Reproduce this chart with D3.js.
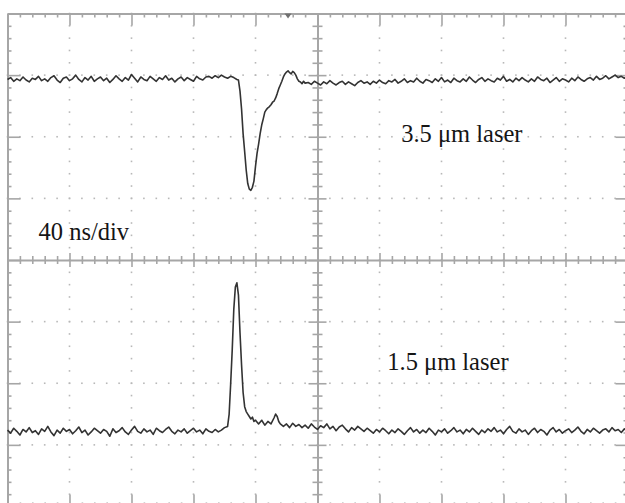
<!DOCTYPE html>
<html>
<head>
<meta charset="utf-8">
<script src="https://cdn.jsdelivr.net/npm/d3@7"></script>
<style>
  html, body { margin: 0; padding: 0; background: #ffffff; }
  svg { display: block; }
</style>
</head>
<body>
<div id="chart"></div>
<script>
// ---------------- DATA ----------------
// Time axis in ns (40 ns/div, 10 divisions), amplitude in 1/100 division (8 divisions).
const timeRange = [0, 400];
const ampRange = [-400, 400];
const sampleStep = 2; // ns between baseline samples

// 3.5 um laser trace (top)
const topBaseLeft = [
  293, 296, 290, 294, 291, 297, 292, 289, 295, 293,
  298, 291, 294, 290, 296, 299, 292, 288, 295, 297,
  291, 294, 300, 293, 289, 296, 292, 298, 290, 294,
  297, 291, 295, 288, 293, 299, 294, 290, 296, 292,
  301, 295, 289, 297, 293, 291, 298, 294, 290, 296,
  293, 299, 292, 295, 289, 294, 297, 291, 296, 293,
  290, 298, 294, 292, 297, 298, 295, 299, 296, 300,
  297, 295, 298, 296, 293
]; // t = 0 .. 148 ns
const topPulseT = [149, 150, 151, 152, 153, 154, 155, 156, 157, 158, 159, 160, 161, 162, 163, 164, 165, 166, 167, 168, 169, 170, 171, 172, 173, 174, 175, 176, 177, 178, 179, 180, 181, 182, 183, 184, 185, 186, 187, 188, 189, 190, 191, 192];
const topPulseV = [292, 274, 245, 205, 176, 146, 124, 115, 113, 118, 128, 152, 173, 188, 205, 219, 229, 240, 244, 247, 249, 252, 256, 258, 263, 270, 278, 284, 290, 297, 302, 305, 307, 304, 302, 306, 304, 300, 294, 290, 289, 286, 290, 287];
const topBaseRightStart = 194;
const topBaseRight = [
  288, 285, 290, 287, 284, 289, 286, 291, 287, 284,
  288, 290, 285, 289, 286, 283, 288, 291, 287, 289,
  285, 290, 287, 292, 288, 286, 291, 289, 293, 287,
  290, 294, 288, 291, 289, 295, 290, 287, 293, 291,
  288, 294, 290, 296, 289, 292, 288, 295, 291, 289,
  294, 290, 297, 292, 288, 293, 296, 290, 294, 291,
  289, 295, 292, 298, 290, 293, 289, 295, 291, 296,
  292, 289, 294, 290, 297, 293, 291, 295, 288, 292,
  296, 290, 294, 292, 289, 295, 291, 297, 293, 290,
  294, 296, 292, 298, 293, 295, 299, 294, 297, 300,
  296, 298, 295, 297
];

// 1.5 um laser trace (bottom)
const botBaseLeft = [
  -276, -281, -273, -278, -284, -275, -279, -272, -280, -277,
  -283, -274, -278, -270, -279, -285, -276, -281, -273, -278,
  -275, -282, -277, -271, -280, -276, -284, -279, -273, -277,
  -281, -275, -278, -286, -274, -280, -277, -272, -279, -283,
  -276, -270, -278, -281, -274, -279, -276, -283, -273, -277,
  -280, -275, -271, -278, -282, -276, -279, -274, -281, -277,
  -273, -279, -276, -282, -274, -278, -280, -275, -279, -276,
  -272, -270
]; // t = 0 .. 142 ns
const botPulseT = [143, 144, 145, 146, 147, 148, 149, 150, 151, 152, 153, 154, 155, 156, 157, 158, 159, 160, 162, 164, 166, 168, 170, 172, 173, 174, 175, 176, 178, 180, 182, 184, 186, 188, 190];
const botPulseV = [-250, -200, -145, -80, -44, -37, -57, -118, -170, -215, -238, -246, -250, -254, -258, -255, -262, -260, -266, -260, -268, -262, -266, -256, -250, -254, -262, -266, -270, -266, -272, -265, -270, -267, -272];
const botBaseRightStart = 192;
const botBaseRight = [
  -268, -273, -266, -271, -275, -269, -272, -266, -274, -270,
  -277, -271, -268, -274, -279, -272, -276, -270, -274, -278,
  -273, -277, -281, -275, -279, -273, -277, -282, -276, -280,
  -274, -278, -283, -277, -272, -279, -275, -281, -276, -280,
  -273, -278, -284, -276, -279, -274, -281, -277, -272, -279,
  -276, -282, -275, -279, -273, -278, -283, -276, -280, -274,
  -278, -272, -279, -276, -282, -275, -270, -278, -281, -274,
  -279, -276, -283, -277, -273, -280, -275, -278, -284, -276,
  -272, -279, -275, -281, -277, -274, -280, -276, -271, -278,
  -282, -275, -279, -273, -277, -281, -276, -274, -279, -272,
  -277, -275, -280, -274, -278
];

const triggerTime = 181; // ns, trigger marker at top
const labels = [
  { text: "3.5 \u03bcm laser", t: 254, v: 191 },
  { text: "40 ns/div", t: 20, v: 33 },
  { text: "1.5 \u03bcm laser", t: 245, v: -178 }
];

// ---------------- CHART ----------------
const W = 625, H = 503;
const svg = d3.select("#chart").append("svg").attr("width", W).attr("height", H);
svg.append("rect").attr("width", W).attr("height", H).attr("fill", "#ffffff");

const x = d3.scaleLinear().domain(timeRange).range([7.5, 627.5]);
const y = d3.scaleLinear().domain(ampRange).range([506.5, 13.5]);

const gridColor = "#a6a6a6";
const dotColor = "#b8b8b8";

const majorX = d3.range(0, 401, 40);
const minorX = d3.range(0, 401, 8).filter(v => v % 40 !== 0);
const majorY = d3.range(-400, 401, 100);
const minorY = d3.range(-400, 401, 20).filter(v => v % 100 !== 0);

// dotted graticule
const dots = svg.append("g");
const dotData = [];
majorX.filter(t => t !== 0 && t !== 200 && t !== 400).forEach(t => {
  d3.range(-400, 401, 20).forEach(v => dotData.push([t, v]));
});
majorY.filter(v => v !== 0 && Math.abs(v) !== 400).forEach(v => {
  d3.range(0, 401, 8).forEach(t => dotData.push([t, v]));
});
dots.selectAll("rect").data(dotData).join("rect")
  .attr("x", d => x(d[0]) - 0.8).attr("y", d => y(d[1]) - 0.8)
  .attr("width", 1.6).attr("height", 1.6).attr("fill", dotColor);

function tickAxis(axisFn, scale, values, size, transform, domain) {
  const g = svg.append("g").attr("transform", transform)
    .call(axisFn(scale).tickValues(values).tickSize(size).tickSizeOuter(0).tickFormat(""));
  g.selectAll(".tick line").attr("stroke", gridColor).attr("stroke-width", 1.6);
  g.select(".domain").attr("stroke", domain ? gridColor : "none").attr("stroke-width", 2);
  return g;
}

// borders with inward ticks
tickAxis(d3.axisBottom, x, minorX, 4, `translate(0,${y(400)})`, true);
tickAxis(d3.axisBottom, x, majorX, 12, `translate(0,${y(400)})`, false);
tickAxis(d3.axisTop, x, minorX, 4, `translate(0,${y(-400)})`, true);
tickAxis(d3.axisTop, x, majorX, 12, `translate(0,${y(-400)})`, false);
tickAxis(d3.axisRight, y, minorY, 4, `translate(${x(0)},0)`, true);
tickAxis(d3.axisRight, y, majorY, 13, `translate(${x(0)},0)`, false);
tickAxis(d3.axisLeft, y, minorY, 4, `translate(${x(400)},0)`, true);
tickAxis(d3.axisLeft, y, majorY, 12, `translate(${x(400)},0)`, false);

// center crosshair with ticks on both sides
tickAxis(d3.axisBottom, x, minorX, 4, `translate(0,${y(0)})`, true);
tickAxis(d3.axisTop, x, minorX, 4, `translate(0,${y(0)})`, false);
tickAxis(d3.axisBottom, x, majorX, 7, `translate(0,${y(0)})`, false);
tickAxis(d3.axisTop, x, majorX, 7, `translate(0,${y(0)})`, false);
tickAxis(d3.axisRight, y, minorY, 5, `translate(${x(200)},0)`, true);
tickAxis(d3.axisLeft, y, minorY, 5, `translate(${x(200)},0)`, false);
tickAxis(d3.axisRight, y, majorY, 9, `translate(${x(200)},0)`, false);
tickAxis(d3.axisLeft, y, majorY, 9, `translate(${x(200)},0)`, false);

// traces
function buildTrace(left, pt, pv, rightStart, right) {
  const pts = left.map((v, i) => ({ t: i * sampleStep, v }));
  pt.forEach((t, i) => pts.push({ t, v: pv[i] }));
  right.forEach((v, i) => pts.push({ t: rightStart + i * sampleStep, v }));
  return pts;
}
const topTrace = buildTrace(topBaseLeft, topPulseT, topPulseV, topBaseRightStart, topBaseRight);
const botTrace = buildTrace(botBaseLeft, botPulseT, botPulseV, botBaseRightStart, botBaseRight);

const line = d3.line().x(d => x(d.t)).y(d => y(d.v));
[topTrace, botTrace].forEach(tr => {
  svg.append("path").datum(tr).attr("d", line)
    .attr("fill", "none").attr("stroke", "#333333")
    .attr("stroke-width", 1.6).attr("stroke-linejoin", "round");
});

// trigger marker
const tx = x(triggerTime), ty = y(400);
svg.append("path")
  .attr("d", `M${tx - 3.5},${ty} L${tx + 3.5},${ty} L${tx},${ty + 5} Z`)
  .attr("fill", "#707070");

// labels
svg.append("g").selectAll("text").data(labels).join("text")
  .attr("x", d => x(d.t)).attr("y", d => y(d.v))
  .attr("font-family", "'Liberation Serif', 'Times New Roman', serif")
  .attr("font-size", 24.5).attr("fill", "#151515")
  .text(d => d.text);
</script>
</body>
</html>
